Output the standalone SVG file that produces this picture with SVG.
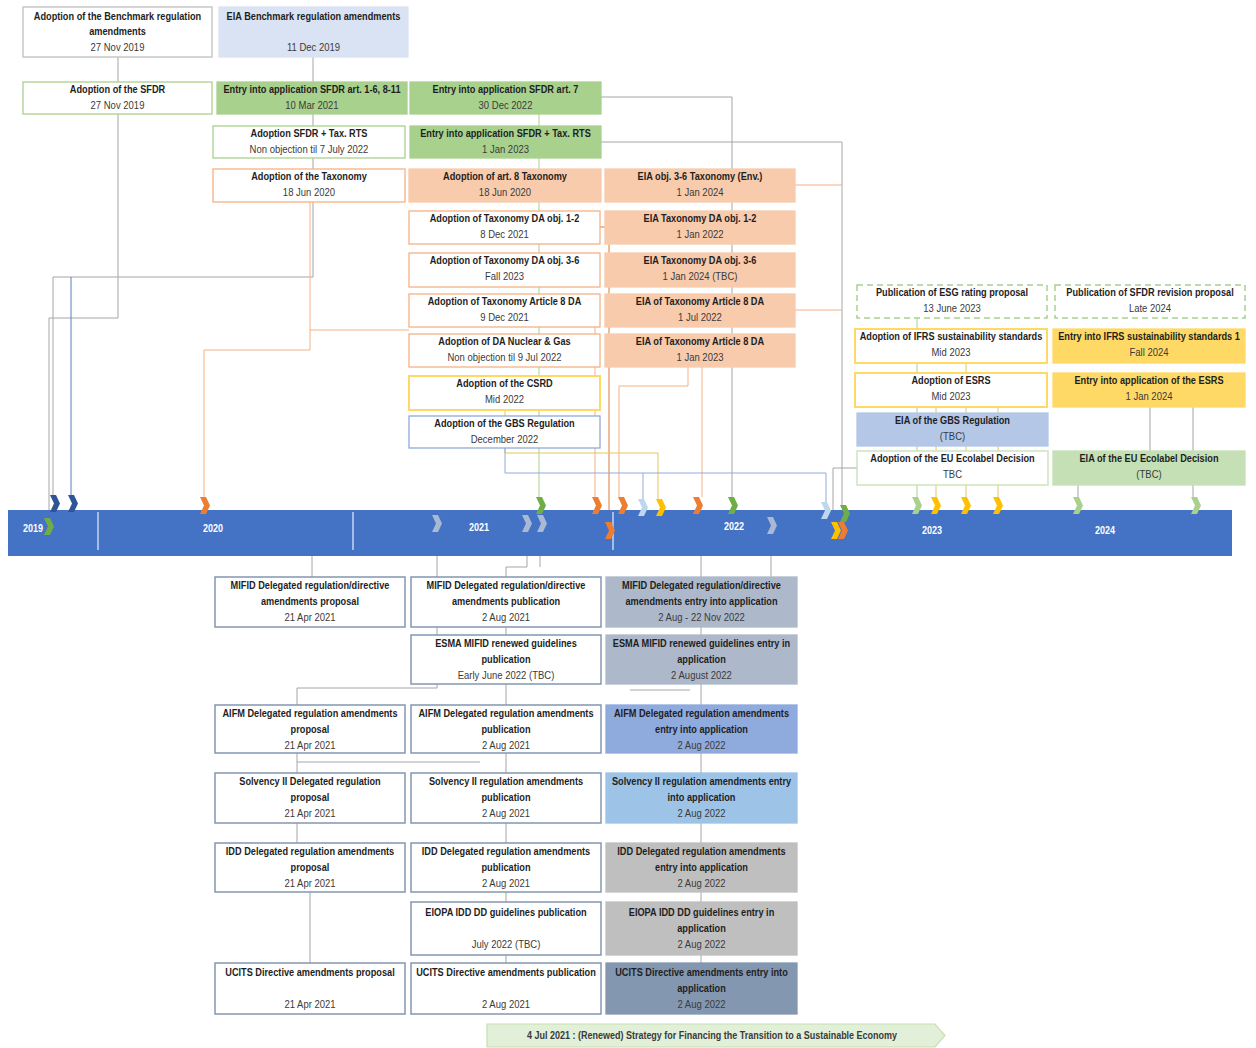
<svg xmlns="http://www.w3.org/2000/svg" xmlns:xlink="http://www.w3.org/1999/xlink" width="1256" height="1048" viewBox="0 0 1256 1048">
<style>
text{transform-box:fill-box;transform-origin:center;text-anchor:middle}
.h{font-family:"Liberation Sans",Arial,sans-serif;font-weight:bold;font-size:10px;fill:#1e1e1e;transform:scaleX(0.92)}
.d{font-family:"Liberation Sans",Arial,sans-serif;font-size:10px;fill:#3a3a3a;transform:scaleX(0.95)}
.y{font-family:"Liberation Sans",Arial,sans-serif;font-weight:bold;font-size:10px;fill:#fff;transform:scaleX(0.9)}
.b{font-family:"Liberation Sans",Arial,sans-serif;font-weight:bold;font-size:10px;fill:#3a3a3a;transform:scaleX(0.9)}
rect{stroke-width:1.3}
.w{fill:#fff}
.sg{stroke:#a9d18e}.so{stroke:#f4b183}.sy{stroke:#ffd966;stroke-width:2}.sb{stroke:#8497b0;stroke-width:1.5}.sgr{stroke:#bfbfbf}.sgb{stroke:#8faadc}.slg{stroke:#c5e0b4}
.dash{stroke:#a9d18e;stroke-width:1.5;stroke-dasharray:6 4}
.fg{fill:#a9d18e;stroke:#a9d18e}.fo{fill:#f8cbad;stroke:#f8cbad}.fy{fill:#ffd966;stroke:#ffd966}
.c{fill:none;stroke:#a6a6a6;stroke-width:1}
.co{stroke:#f4b183}.cg{stroke:#a9d18e}.cb{stroke:#8faadc}.cy{stroke:#e6c65a}.cdo{stroke:#e07b39}.cdb{stroke:#5b7fbf}
</style>
<defs>
<path id="chev" d="M0,0 L6,0 L10,8.5 L6,17 L0,17 L4,8.5 Z"/>
</defs>

<g id="connectors">
<path class="c" d="M118,57 V82"/>
<path class="c" d="M313,57 V82"/>
<path class="c" d="M118,114 V318 H49 V518"/>
<path class="c" d="M313,114 V277 H53 V497"/>
<path class="c cdb" d="M71,277 V497"/>
<path class="c co" d="M310,202 V350 H204 V497"/>
<path class="c co" d="M310,330 H409"/>
<path class="c cg" d="M539,114 V497"/>
<path class="c" d="M601,97 H732 V497"/>
<path class="c" d="M601,142 H842 V505"/>
<path class="c co" d="M795,185 H842"/>
<path class="c co" d="M795,310 H842"/>
<path class="c co" d="M595,327 V497"/>
<path class="c cdo" d="M600,227 H609 V524"/>
<path class="c co" d="M688,367 V386 H619 V497"/>
<path class="c co" d="M702,367 V497"/>
<path class="c cy" d="M505,410 V453 H658 V499"/>
<path class="c cb" d="M505,448 V473 H826 V502"/>
<path class="c cb" d="M643,473 V499"/>
<path class="c" d="M857,468 H833 V522"/>
<path class="c cg" d="M917,318 V497"/>
<path class="c cy" d="M936,407 V497"/>
<path class="c cy" d="M966,363 V497"/>
<path class="c cy" d="M998,407 V497"/>
<path class="c" d="M1150,407 V451"/>
<path class="c" d="M1193,407 V497"/>
<path class="c" d="M1078,485 V497"/>
<path class="c" d="M312,556 V577"/>
<path class="c" d="M437,556 V688 H297 V705"/>
<path class="c" d="M297,753 V773"/>
<path class="c" d="M297,823 V843"/>
<path class="c" d="M310,892 V963"/>
<path class="c" d="M527,556 V567 H506"/>
<path class="c" d="M540,556 V567"/>
<path class="c" d="M506,567 V963"/>
<path class="c" d="M771,556 V577"/>
<path class="c" d="M701,556 V963"/>
<path class="c" d="M297,762 H480"/>
<path class="c" d="M630,690 H690"/>
</g>

<g id="timeline">
<rect x="8" y="510" width="1224" height="46" fill="#4472c4" stroke="none"/>
<path d="M98,512 V550 M353,512 V550 M613,512 V550" stroke="#e8eefa" stroke-width="1.2" fill="none"/>
<text class="y" x="33" y="532">2019</text>
<text class="y" x="213" y="532">2020</text>
<text class="y" x="479" y="531">2021</text>
<text class="y" x="734" y="530">2022</text>
<text class="y" x="932" y="534">2023</text>
<text class="y" x="1105" y="534">2024</text>
</g>

<g id="markers">
<use href="#chev" x="44" y="518" fill="#70ad47"/>
<use href="#chev" x="50" y="495" fill="#2f5597"/>
<use href="#chev" x="68" y="495" fill="#2f5597"/>
<use href="#chev" x="200" y="497" fill="#ed7d31"/>
<use href="#chev" x="432" y="515" fill="#a9b8d3"/>
<use href="#chev" x="522" y="515" fill="#a9b8d3"/>
<use href="#chev" x="537" y="515" fill="#a9b8d3"/>
<use href="#chev" x="536" y="497" fill="#70ad47"/>
<use href="#chev" x="592" y="497" fill="#ed7d31"/>
<use href="#chev" x="605" y="522" fill="#ed7d31"/>
<use href="#chev" x="618" y="497" fill="#ed7d31"/>
<use href="#chev" x="638" y="499" fill="#bdd7ee"/>
<use href="#chev" x="656" y="499" fill="#ffc000"/>
<use href="#chev" x="693" y="497" fill="#ed7d31"/>
<use href="#chev" x="728" y="497" fill="#70ad47"/>
<use href="#chev" x="767" y="517" fill="#a9b8d3"/>
<use href="#chev" x="821" y="502" fill="#bdd7ee"/>
<use href="#chev" x="840" y="505" fill="#70ad47"/>
<use href="#chev" x="831" y="522" fill="#ffc000"/>
<use href="#chev" x="838" y="522" fill="#ed7d31"/>
<use href="#chev" x="912" y="497" fill="#a9d18e"/>
<use href="#chev" x="931" y="497" fill="#ffc000"/>
<use href="#chev" x="961" y="497" fill="#ffc000"/>
<use href="#chev" x="993" y="497" fill="#ffc000"/>
<use href="#chev" x="1073" y="497" fill="#a9d18e"/>
<use href="#chev" x="1191" y="497" fill="#a9d18e"/>
</g>

<g id="n1"><rect class="w sgr" x="23" y="7" width="189" height="50"/><text class="h" x="117.5" y="20">Adoption of the Benchmark regulation</text><text class="h" x="117.5" y="35">amendments</text><text class="d" x="117.5" y="51">27 Nov 2019</text></g>
<g id="n2"><rect x="219" y="7" width="189" height="50" fill="#dae3f3" stroke="#dae3f3"/><text class="h" x="313.5" y="20">EIA Benchmark regulation amendments</text><text class="d" x="313.5" y="51">11 Dec 2019</text></g>
<g id="n3"><rect class="w sg" x="23" y="82" width="189" height="32"/><text class="h" x="117.5" y="93">Adoption of the SFDR</text><text class="d" x="117.5" y="109">27 Nov 2019</text></g>
<g id="n4"><rect class="fg" x="217" y="82" width="190" height="32"/><text class="h" x="312" y="93">Entry into application SFDR art. 1-6, 8-11</text><text class="d" x="312" y="109">10 Mar 2021</text></g>
<g id="n5"><rect class="fg" x="410" y="82" width="191" height="32"/><text class="h" x="505.5" y="93">Entry into application SFDR art. 7</text><text class="d" x="505.5" y="109">30 Dec 2022</text></g>
<g id="n6"><rect class="w sg" x="213" y="126" width="192" height="32"/><text class="h" x="309" y="137">Adoption SFDR + Tax. RTS</text><text class="d" x="309" y="153">Non objection til 7 July 2022</text></g>
<g id="n7"><rect class="fg" x="410" y="126" width="191" height="32"/><text class="h" x="505.5" y="137">Entry into application SFDR + Tax. RTS</text><text class="d" x="505.5" y="153">1 Jan 2023</text></g>
<g id="n8"><rect class="w so" x="213" y="169" width="192" height="33"/><text class="h" x="309" y="180">Adoption of the Taxonomy</text><text class="d" x="309" y="196">18 Jun 2020</text></g>
<g id="n9"><rect class="fo" x="409" y="169" width="192" height="33"/><text class="h" x="505" y="180">Adoption of  art. 8 Taxonomy</text><text class="d" x="505" y="196">18 Jun 2020</text></g>
<g id="n10"><rect class="fo" x="605" y="169" width="190" height="33"/><text class="h" x="700" y="180">EIA obj. 3-6 Taxonomy (Env.)</text><text class="d" x="700" y="196">1 Jan 2024</text></g>
<g id="n11"><rect class="w so" x="409" y="211" width="191" height="33"/><text class="h" x="504.5" y="222">Adoption of Taxonomy DA obj. 1-2</text><text class="d" x="504.5" y="238">8 Dec 2021</text></g>
<g id="n12"><rect class="fo" x="605" y="211" width="190" height="33"/><text class="h" x="700" y="222">EIA Taxonomy DA obj. 1-2</text><text class="d" x="700" y="238">1 Jan 2022</text></g>
<g id="n13"><rect class="w so" x="409" y="253" width="191" height="34"/><text class="h" x="504.5" y="264">Adoption of Taxonomy DA obj. 3-6</text><text class="d" x="504.5" y="280">Fall 2023</text></g>
<g id="n14"><rect class="fo" x="605" y="253" width="190" height="34"/><text class="h" x="700" y="264">EIA Taxonomy DA obj. 3-6</text><text class="d" x="700" y="280">1 Jan 2024 (TBC)</text></g>
<g id="n15"><rect class="w so" x="409" y="294" width="191" height="33"/><text class="h" x="504.5" y="305">Adoption of Taxonomy Article 8 DA</text><text class="d" x="504.5" y="321">9 Dec 2021</text></g>
<g id="n16"><rect class="fo" x="605" y="294" width="190" height="33"/><text class="h" x="700" y="305">EIA of Taxonomy Article 8 DA</text><text class="d" x="700" y="321">1 Jul 2022</text></g>
<g id="n17"><rect class="w so" x="409" y="334" width="191" height="33"/><text class="h" x="504.5" y="345">Adoption of DA Nuclear &amp; Gas</text><text class="d" x="504.5" y="361">Non objection til 9 Jul 2022</text></g>
<g id="n18"><rect class="fo" x="605" y="334" width="190" height="33"/><text class="h" x="700" y="345">EIA of Taxonomy Article 8 DA</text><text class="d" x="700" y="361">1 Jan 2023</text></g>
<g id="n19"><rect class="w sy" x="409" y="376" width="191" height="34"/><text class="h" x="504.5" y="387">Adoption of the CSRD</text><text class="d" x="504.5" y="403">Mid 2022</text></g>
<g id="n20"><rect class="w sgb" x="409" y="416" width="191" height="32"/><text class="h" x="504.5" y="427">Adoption of the GBS Regulation</text><text class="d" x="504.5" y="443">December 2022</text></g>

<g id="n21"><rect class="w dash" x="857" y="285" width="190" height="33"/><text class="h" x="952" y="296">Publication of ESG rating proposal</text><text class="d" x="952" y="312">13 June 2023</text></g>
<g id="n22"><rect class="w dash" x="1055" y="285" width="190" height="33"/><text class="h" x="1150" y="296">Publication of SFDR revision proposal</text><text class="d" x="1150" y="312">Late 2024</text></g>
<g id="n23"><rect class="w sy" x="855" y="329" width="192" height="34"/><text class="h" x="951" y="340">Adoption of IFRS sustainability standards</text><text class="d" x="951" y="356">Mid 2023</text></g>
<g id="n24"><rect class="fy" x="1053" y="329" width="192" height="34"/><text class="h" x="1149" y="340">Entry into IFRS sustainability standards 1</text><text class="d" x="1149" y="356">Fall 2024</text></g>
<g id="n25"><rect class="w sy" x="855" y="373" width="192" height="34"/><text class="h" x="951" y="384">Adoption of ESRS</text><text class="d" x="951" y="400">Mid 2023</text></g>
<g id="n26"><rect class="fy" x="1053" y="373" width="192" height="34"/><text class="h" x="1149" y="384">Entry into application of the ESRS</text><text class="d" x="1149" y="400">1 Jan 2024</text></g>
<g id="n27"><rect x="857" y="413" width="191" height="33" fill="#b4c7e7" stroke="#b4c7e7"/><text class="h" x="952.5" y="424">EIA of the GBS Regulation</text><text class="d" x="952.5" y="440">(TBC)</text></g>
<g id="n28"><rect class="w slg" x="857" y="451" width="191" height="34"/><text class="h" x="952.5" y="462">Adoption of the EU Ecolabel Decision</text><text class="d" x="952.5" y="478">TBC</text></g>
<g id="n29"><rect x="1053" y="451" width="192" height="34" fill="#c5e0b4" stroke="#c5e0b4"/><text class="h" x="1149" y="462">EIA of the EU Ecolabel Decision</text><text class="d" x="1149" y="478">(TBC)</text></g>

<g id="b-mifid-a"><rect class="w sb" x="215" y="577" width="190" height="50"/><text class="h" x="310" y="589">MIFID Delegated regulation/directive</text><text class="h" x="310" y="605">amendments proposal</text><text class="d" x="310" y="621">21 Apr 2021</text></g>
<g id="b-mifid-b"><rect class="w sb" x="411" y="577" width="190" height="50"/><text class="h" x="506" y="589">MIFID Delegated regulation/directive</text><text class="h" x="506" y="605">amendments publication</text><text class="d" x="506" y="621">2 Aug 2021</text></g>
<g id="b-mifid-c"><rect x="606" y="577" width="191" height="50" fill="#adb9ca" stroke="#adb9ca"/><text class="h" x="701.5" y="589">MIFID Delegated regulation/directive</text><text class="h" x="701.5" y="605">amendments entry into application</text><text class="d" x="701.5" y="621">2 Aug - 22 Nov 2022</text></g>
<g id="b-esma-b"><rect class="w sb" x="411" y="635" width="190" height="49"/><text class="h" x="506" y="647">ESMA MIFID renewed guidelines</text><text class="h" x="506" y="663">publication</text><text class="d" x="506" y="679">Early June 2022 (TBC)</text></g>
<g id="b-esma-c"><rect x="606" y="635" width="191" height="49" fill="#adb9ca" stroke="#adb9ca"/><text class="h" x="701.5" y="647">ESMA MIFID renewed guidelines entry in</text><text class="h" x="701.5" y="663">application</text><text class="d" x="701.5" y="679">2 August 2022</text></g>
<g id="b-aifm-a"><rect class="w sb" x="215" y="705" width="190" height="48"/><text class="h" x="310" y="717">AIFM Delegated regulation amendments</text><text class="h" x="310" y="733">proposal</text><text class="d" x="310" y="749">21 Apr 2021</text></g>
<g id="b-aifm-b"><rect class="w sb" x="411" y="705" width="190" height="48"/><text class="h" x="506" y="717">AIFM Delegated regulation amendments</text><text class="h" x="506" y="733">publication</text><text class="d" x="506" y="749">2 Aug 2021</text></g>
<g id="b-aifm-c"><rect x="606" y="705" width="191" height="48" fill="#8faadc" stroke="#8faadc"/><text class="h" x="701.5" y="717">AIFM Delegated regulation amendments</text><text class="h" x="701.5" y="733">entry into application</text><text class="d" x="701.5" y="749">2 Aug 2022</text></g>
<g id="b-solv-a"><rect class="w sb" x="215" y="773" width="190" height="50"/><text class="h" x="310" y="785">Solvency II Delegated regulation</text><text class="h" x="310" y="801">proposal</text><text class="d" x="310" y="817">21 Apr 2021</text></g>
<g id="b-solv-b"><rect class="w sb" x="411" y="773" width="190" height="50"/><text class="h" x="506" y="785">Solvency II regulation amendments</text><text class="h" x="506" y="801">publication</text><text class="d" x="506" y="817">2 Aug 2021</text></g>
<g id="b-solv-c"><rect x="606" y="773" width="191" height="50" fill="#9dc3e6" stroke="#9dc3e6"/><text class="h" x="701.5" y="785">Solvency II regulation amendments entry</text><text class="h" x="701.5" y="801">into application</text><text class="d" x="701.5" y="817">2 Aug 2022</text></g>
<g id="b-idd-a"><rect class="w sb" x="215" y="843" width="190" height="49"/><text class="h" x="310" y="855">IDD Delegated regulation amendments</text><text class="h" x="310" y="871">proposal</text><text class="d" x="310" y="887">21 Apr 2021</text></g>
<g id="b-idd-b"><rect class="w sb" x="411" y="843" width="190" height="49"/><text class="h" x="506" y="855">IDD Delegated regulation amendments</text><text class="h" x="506" y="871">publication</text><text class="d" x="506" y="887">2 Aug 2021</text></g>
<g id="b-idd-c"><rect x="606" y="843" width="191" height="49" fill="#bfbfbf" stroke="#bfbfbf"/><text class="h" x="701.5" y="855">IDD Delegated regulation amendments</text><text class="h" x="701.5" y="871">entry into application</text><text class="d" x="701.5" y="887">2 Aug 2022</text></g>
<g id="b-eiopa-b"><rect class="w sb" x="411" y="902" width="190" height="53"/><text class="h" x="506" y="916">EIOPA IDD DD guidelines publication</text><text class="d" x="506" y="948">July 2022 (TBC)</text></g>
<g id="b-eiopa-c"><rect x="606" y="902" width="191" height="53" fill="#bfbfbf" stroke="#bfbfbf"/><text class="h" x="701.5" y="916">EIOPA IDD DD guidelines entry in</text><text class="h" x="701.5" y="932">application</text><text class="d" x="701.5" y="948">2 Aug 2022</text></g>
<g id="b-ucits-a"><rect class="w sb" x="215" y="963" width="190" height="51"/><text class="h" x="310" y="976">UCITS Directive amendments proposal</text><text class="d" x="310" y="1008">21 Apr 2021</text></g>
<g id="b-ucits-b"><rect class="w sb" x="411" y="963" width="190" height="51"/><text class="h" x="506" y="976">UCITS Directive amendments publication</text><text class="d" x="506" y="1008">2 Aug 2021</text></g>
<g id="b-ucits-c"><rect x="606" y="963" width="191" height="51" fill="#8497b0" stroke="#8497b0"/><text class="h" x="701.5" y="976">UCITS Directive amendments entry into</text><text class="h" x="701.5" y="992">application</text><text class="d" x="701.5" y="1008">2 Aug 2022</text></g>

<g id="banner"><path d="M487,1024 H935 L945,1035.5 L935,1047 H487 Z" fill="#e2f0d9" stroke="#c5e0b4" stroke-width="1.2"/><text class="b" x="712" y="1039">4 Jul 2021 : (Renewed) Strategy for Financing the Transition to a Sustainable Economy</text></g>
</svg>
